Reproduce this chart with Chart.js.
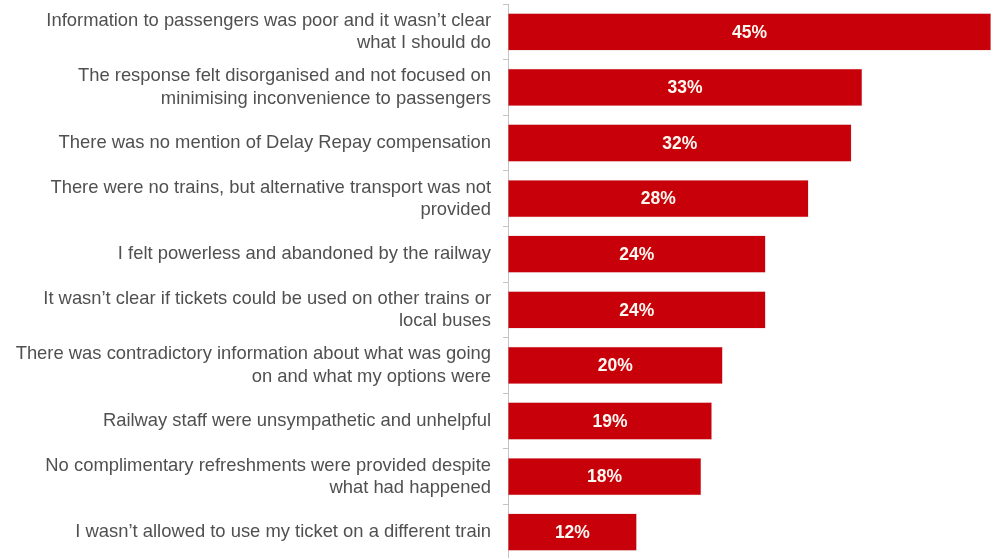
<!DOCTYPE html>
<html>
<head>
<meta charset="utf-8">
<script src="https://cdn.jsdelivr.net/npm/chart.js@4"></script>
<style>
  html, body { margin: 0; padding: 0; background: #fff; overflow: hidden; }
  #wrap { width: 996px; height: 560px; position: relative; }
</style>
</head>
<body>
<div id="wrap"><canvas id="barChart"></canvas></div>
<script>
// Categories (multi-line where the reference wraps)
const categories = [
  ["Information to passengers was poor and it wasn\u2019t clear", "what I should do"],
  ["The response felt disorganised and not focused on", "minimising inconvenience to passengers"],
  "There was no mention of Delay Repay compensation",
  ["There were no trains, but alternative transport was not", "provided"],
  "I felt powerless and abandoned by the railway",
  ["It wasn\u2019t clear if tickets could be used on other trains or", "local buses"],
  ["There was contradictory information about what was going", "on and what my options were"],
  "Railway staff were unsympathetic and unhelpful",
  ["No complimentary refreshments were provided despite", "what had happened"],
  "I wasn\u2019t allowed to use my ticket on a different train"
];
const values = [45, 33, 32, 28, 24, 24, 20, 19, 18, 12];

// Draw the value label in the middle of each bar
const barLabels = {
  id: 'barLabels',
  afterDatasetsDraw(chart) {
    const ctx = chart.ctx;
    const meta = chart.getDatasetMeta(0);
    ctx.save();
    ctx.fillStyle = '#fff8f0';
    ctx.font = 'bold 17.5px "Liberation Sans", Arial, sans-serif';
    ctx.textAlign = 'center';
    ctx.textBaseline = 'middle';
    meta.data.forEach((bar, i) => {
      const { x, y, base } = bar.getProps(['x', 'y', 'base'], true);
      ctx.fillText(values[i] + '%', (x + base) / 2, y + 1);
    });
    ctx.restore();
  }
};

new Chart(document.getElementById('barChart'), {
  type: 'bar',
  data: {
    labels: categories,
    datasets: [{
      data: values,
      backgroundColor: '#c8000a',
      borderColor: 'rgba(190,120,120,0.6)',
      borderWidth: 0.5,
      borderSkipped: false,
      categoryPercentage: 1,
      barPercentage: 0.67
    }]
  },
  options: {
    indexAxis: 'y',
    responsive: true,
    maintainAspectRatio: false,
    animation: false,
    layout: { padding: { top: 4, right: 5, bottom: 0, left: 0 } },
    plugins: { legend: { display: false }, tooltip: { enabled: false } },
    scales: {
      x: {
        display: false,
        min: 0,
        max: 45
      },
      y: {
        afterFit(scale) {
          scale.width = 508;
          // labels may overhang the ends, bars are offset anyway
          scale.paddingTop = 0;
          scale.paddingBottom = 0;
        },
        border: { display: true, color: '#c4c4c4', width: 1 },
        grid: {
          offset: true,
          drawOnChartArea: false,
          drawTicks: true,
          tickLength: 5,
          color: '#c4c4c4'
        },
        ticks: {
          padding: 12,
          color: '#505050',
          font: { family: '"Liberation Sans", Arial, sans-serif', size: 18.4, lineHeight: 1.2 }
        }
      }
    }
  },
  plugins: [barLabels]
});
</script>
</body>
</html>
